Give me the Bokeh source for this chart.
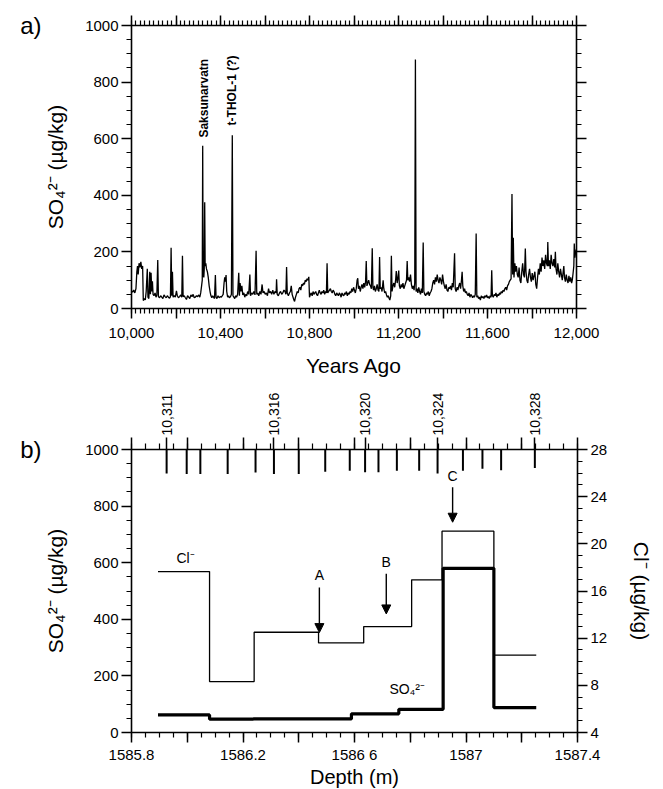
import math
from bokeh.plotting import figure
from bokeh.models import (LinearAxis, FixedTicker, Range1d, Label, Arrow, NormalHead,
                          CustomLabelingPolicy)
from bokeh.layouts import column
from bokeh.embed import file_html
from bokeh.resources import INLINE

FONT = "Liberation Sans"

# ---------------- panel a data: SO4 (ug/kg) vs years ago ----------------
years_a = [10000, 10005, 10010, 10015, 10020, 10024, 10027, 10030, 10034, 10038, 10042, 10046, 10050, 10053, 10058, 10062,
           10066, 10071, 10074, 10078, 10082, 10085, 10088, 10091, 10094, 10097, 10101, 10106, 10110, 10114, 10118, 10121,
           10126, 10131, 10136, 10141, 10146, 10151, 10156, 10161, 10166, 10171, 10175, 10178, 10181, 10184, 10187, 10192,
           10197, 10202, 10206, 10211, 10216, 10221, 10226, 10229, 10232, 10237, 10242, 10247, 10252, 10257, 10262, 10267,
           10272, 10277, 10282, 10287, 10292, 10297, 10302, 10307, 10311, 10315, 10318, 10320, 10322, 10325, 10327, 10329,
           10331, 10334, 10337, 10341, 10345, 10349, 10353, 10357, 10361, 10365, 10369, 10373, 10377, 10380, 10384, 10389,
           10394, 10399, 10404, 10408, 10412, 10416, 10419, 10422, 10425, 10428, 10432, 10436, 10440, 10445, 10449, 10453,
           10456, 10460, 10464, 10468, 10472, 10477, 10482, 10485, 10488, 10492, 10496, 10500, 10505, 10509, 10513, 10518,
           10522, 10527, 10532, 10535, 10540, 10545, 10550, 10555, 10560, 10563, 10567, 10572, 10577, 10582, 10587, 10591,
           10596, 10601, 10606, 10611, 10616, 10620, 10625, 10630, 10635, 10640, 10645, 10650, 10652, 10655, 10660, 10665,
           10670, 10675, 10680, 10685, 10690, 10694, 10697, 10700, 10705, 10710, 10714, 10718, 10722, 10726, 10730, 10733,
           10737, 10741, 10745, 10749, 10753, 10757, 10761, 10765, 10769, 10773, 10777, 10781, 10785, 10789, 10793, 10797,
           10800, 10804, 10808, 10812, 10816, 10820, 10824, 10828, 10832, 10836, 10840, 10844, 10848, 10852, 10856, 10860,
           10864, 10868, 10872, 10876, 10879, 10882, 10886, 10890, 10894, 10898, 10902, 10906, 10910, 10914, 10918, 10922,
           10926, 10930, 10934, 10938, 10942, 10946, 10950, 10954, 10958, 10962, 10966, 10970, 10974, 10978, 10982, 10986,
           10990, 10994, 10998, 11002, 11006, 11010, 11014, 11017, 11020, 11024, 11028, 11032, 11036, 11040, 11044, 11048,
           11052, 11055, 11058, 11062, 11066, 11070, 11074, 11078, 11082, 11085, 11088, 11092, 11096, 11100, 11104, 11108,
           11112, 11115, 11118, 11122, 11126, 11131, 11134, 11138, 11142, 11146, 11150, 11154, 11158, 11161, 11165, 11168,
           11171, 11175, 11179, 11183, 11187, 11190, 11194, 11198, 11201, 11204, 11208, 11212, 11216, 11220, 11224, 11228,
           11232, 11236, 11239, 11242, 11246, 11250, 11254, 11258, 11262, 11266, 11270, 11273, 11276, 11279, 11283, 11287,
           11291, 11295, 11299, 11303, 11307, 11311, 11314, 11318, 11322, 11326, 11330, 11334, 11338, 11342, 11346, 11350,
           11354, 11358, 11362, 11366, 11370, 11374, 11378, 11382, 11386, 11390, 11394, 11398, 11402, 11406, 11410, 11414,
           11418, 11422, 11426, 11430, 11434, 11438, 11442, 11446, 11452, 11455, 11459, 11463, 11467, 11471, 11475, 11479,
           11483, 11486, 11489, 11493, 11497, 11501, 11505, 11509, 11513, 11517, 11521, 11525, 11529, 11533, 11537, 11541,
           11545, 11549, 11552, 11556, 11560, 11564, 11568, 11572, 11576, 11580, 11584, 11588, 11592, 11596, 11600, 11604,
           11608, 11612, 11616, 11619, 11622, 11626, 11630, 11634, 11638, 11642, 11646, 11650, 11654, 11658, 11662, 11666,
           11670, 11674, 11678, 11682, 11686, 11690, 11694, 11698, 11702, 11706, 11710, 11713, 11716, 11719, 11723, 11726,
           11730, 11734, 11738, 11742, 11746, 11750, 11754, 11758, 11762, 11766, 11770, 11773, 11777, 11781, 11785, 11789,
           11793, 11797, 11801, 11805, 11809, 11813, 11817, 11821, 11825, 11829, 11833, 11837, 11841, 11845, 11849, 11853,
           11857, 11861, 11865, 11869, 11871, 11874, 11878, 11882, 11886, 11890, 11894, 11898, 11902, 11905, 11908, 11912,
           11916, 11920, 11924, 11928, 11932, 11936, 11940, 11943, 11946, 11950, 11954, 11958, 11962, 11966, 11970, 11974,
           11978, 11981, 11984, 11988, 11990, 11993, 11996, 12000]
so4_a = [62, 58, 65, 55, 70, 130, 150, 120, 160, 145, 165, 140, 150, 28, 35, 30,
         60, 140, 40, 35, 130, 50, 126, 60, 96, 50, 45, 55, 40, 48, 171, 42,
         38, 45, 40, 35, 48, 42, 38, 45, 40, 36, 42, 215, 45, 130, 40, 45,
         40, 62, 45, 38, 42, 48, 40, 186, 42, 45, 38, 32, 45, 40, 35, 48,
         42, 50, 38, 40, 45, 42, 48, 40, 55, 80, 100, 575, 120, 110, 140, 375,
         150, 160, 140, 130, 110, 80, 60, 45, 38, 45, 40, 35, 118, 40, 35, 45,
         38, 42, 40, 45, 50, 90, 110, 95, 118, 60, 40, 45, 38, 42, 50, 612,
         45, 40, 35, 45, 40, 50, 126, 45, 90, 60, 80, 48, 55, 40, 50, 45,
         60, 50, 120, 45, 55, 50, 60, 48, 204, 50, 55, 45, 60, 50, 85, 55,
         60, 50, 55, 45, 70, 55, 60, 50, 65, 50, 60, 55, 103, 50, 45, 55,
         60, 50, 55, 65, 60, 50, 147, 55, 45, 55, 60, 80, 50, 40, 30, 25,
         40, 50, 60, 55, 70, 75, 65, 85, 80, 90, 85, 100, 95, 105, 100, 112,
         40, 50, 55, 45, 60, 50, 55, 60, 50, 45, 55, 65, 55, 50, 60, 55,
         65, 50, 60, 55, 160, 55, 60, 65, 70, 60, 55, 65, 60, 50, 45, 55,
         50, 45, 55, 50, 40, 55, 48, 45, 55, 50, 60, 45, 55, 50, 60, 55,
         70, 60, 75, 65, 55, 70, 100, 107, 70, 80, 60, 75, 85, 70, 90, 75,
         95, 168, 80, 90, 100, 85, 80, 70, 213, 75, 65, 80, 60, 70, 85, 65,
         60, 182, 70, 75, 60, 100, 70, 55, 60, 48, 40, 45, 35, 30, 45, 186,
         60, 80, 90, 75, 100, 132, 90, 110, 134, 80, 70, 85, 75, 90, 70, 80,
         90, 100, 168, 100, 110, 95, 120, 85, 70, 80, 65, 90, 880, 60, 70, 55,
         75, 60, 50, 70, 55, 233, 60, 50, 45, 55, 50, 60, 45, 55, 60, 70,
         90, 100, 85, 110, 95, 120, 100, 90, 110, 100, 85, 120, 95, 80, 70, 85,
         65, 60, 75, 70, 80, 65, 90, 75, 195, 70, 60, 75, 65, 80, 90, 70,
         100, 130, 80, 60, 70, 55, 60, 50, 45, 55, 40, 50, 45, 38, 45, 40,
         50, 265, 40, 45, 35, 40, 30, 45, 38, 42, 35, 45, 40, 48, 38, 42,
         35, 45, 40, 135, 45, 40, 50, 45, 55, 40, 50, 45, 55, 50, 60, 55,
         65, 60, 70, 75, 65, 80, 85, 95, 100, 105, 405, 120, 250, 110, 160, 130,
         150, 120, 110, 145, 100, 90, 130, 160, 120, 110, 212, 130, 100, 90, 120, 140,
         110, 95, 125, 100, 115, 130, 85, 70, 110, 140, 120, 160, 130, 180, 150, 170,
         140, 190, 160, 150, 235, 150, 170, 140, 190, 160, 150, 175, 145, 200, 140, 120,
         160, 130, 110, 140, 120, 100, 130, 150, 110, 95, 120, 100, 90, 115, 95, 110,
         90, 100, 120, 150, 230, 180, 200, 210]

event_names = ["Saksunarvatn", "t-THOL-1 (?)"]
event_years = [10324, 10453]
event_label_base = [604, 647]

ticks_a_x = [10000, 10200, 10400, 10600, 10800, 11000, 11200, 11400, 11600, 11800, 12000]
labels_a_x = ["10,000", "", "10,400", "", "10,800", "", "11,200", "", "11,600", "", "12,000"]
minor_a_x = list(range(10000, 12001, 20))
ticks_so4 = [0, 200, 400, 600, 800, 1000]
minor_so4 = list(range(0, 1001, 50))

# ---------------- panel b data ----------------
so4_edges = [1585.895, 1586.08, 1586.237, 1586.589, 1586.759, 1586.918, 1587.1, 1587.252]
so4_vals = [62, 47, 48, 66, 82, 580, 88]
cl_edges = [1585.895, 1586.08, 1586.24, 1586.471, 1586.633, 1586.805, 1586.914, 1587.1, 1587.252]
cl_vals = [17.65, 8.32, 12.5, 11.6, 12.98, 16.95, 21.07, 10.56]

layer_years = [10311, 10312, 10313, 10314, 10315, 10316, 10317, 10318, 10319,
               10320, 10321, 10322, 10323, 10324, 10325, 10326, 10327, 10328]
layer_depths = [1585.926, 1585.998, 1586.047, 1586.145, 1586.245, 1586.311, 1586.400, 1586.495, 1586.583,
                1586.638, 1586.686, 1586.752, 1586.832, 1586.898, 1586.989, 1587.059, 1587.126, 1587.247]
layer_marks = [85, 87, 87, 87, 81, 87, 87, 79, 75, 80, 80, 75, 75, 85, 75, 68, 73, 65]
labeled_years = [10311, 10316, 10320, 10324, 10328]

ticks_depth = [1585.8, 1586.0, 1586.2, 1586.4, 1586.6, 1586.8, 1587.0, 1587.2, 1587.4]
labels_depth = ["1585.8", "", "1586.2", "", "1586 6", "", "1587", "", "1587.4"]
minor_depth = [round(1585.8 + 0.05 * i, 2) for i in range(33)]
ticks_cl = [4, 8, 12, 16, 20, 24, 28]
minor_cl = list(range(4, 29))

arrow_names = ["A", "B", "C"]
arrow_depth = [1586.474, 1586.714, 1586.952]
arrow_top = [512, 561, 867]
arrow_tip = [353, 419, 743]
arrow_text_y = [555, 604, 908]


def keep_policy(rule):
    # rule: JS boolean expression of i telling which tick labels are drawn
    return CustomLabelingPolicy(code=f"""
        try {{
            const arr = Array.from(indices);
            for (const i of arr) {{
                if (!({rule})) {{
                    if (typeof indices.unset === "function") indices.unset(i);
                    else indices.set(i, false);
                }}
            }}
        }} catch (e) {{}}
        return indices;
    """)


def style_axis(ax, font_size="15px", standoff=3, tick_out=10, minor_out=5):
    ax.axis_line_width = 1.6
    ax.axis_line_color = "black"
    ax.major_tick_line_width = 1.5
    ax.minor_tick_line_width = 1.2
    ax.major_tick_line_color = "black"
    ax.minor_tick_line_color = "black"
    ax.major_tick_out = tick_out
    ax.major_tick_in = 0
    ax.minor_tick_out = minor_out
    ax.minor_tick_in = 0
    ax.major_label_text_font = FONT
    ax.major_label_text_font_size = font_size
    ax.major_label_text_color = "black"
    ax.major_label_standoff = standoff
    ax.axis_label_text_font = FONT
    ax.axis_label_text_font_size = "21px"
    ax.axis_label_text_font_style = "normal"
    ax.axis_label_text_color = "black"


def panel_tag(text):
    ax = LinearAxis(ticker=FixedTicker(ticks=[1000], minor_ticks=[]))
    ax.major_label_overrides = {1000: text}
    ax.axis_line_color = None
    ax.major_tick_line_color = None
    ax.major_tick_out = 0
    ax.major_tick_in = 0
    ax.minor_tick_line_color = None
    ax.major_label_standoff = 0
    ax.major_label_text_font = FONT
    ax.major_label_text_font_size = "24px"
    ax.major_label_text_color = "black"
    return ax


# ================= panel a =================
pa = figure(output_backend="svg", toolbar_location=None,
            x_range=Range1d(10000, 12000), y_range=Range1d(0, 1000),
            frame_width=445, frame_height=283,
            min_border_left=131, min_border_right=87, min_border_top=25, min_border_bottom=74,
            x_axis_label="Years Ago", y_axis_label="SO₄²⁻ (µg/kg)")
pa.grid.visible = False
pa.outline_line_color = None
pa.background_fill_color = "white"
pa.border_fill_color = "white"

xa = pa.xaxis[0]
xa.ticker = FixedTicker(ticks=ticks_a_x, minor_ticks=minor_a_x)
xa.major_label_overrides = {t: l for t, l in zip(ticks_a_x, labels_a_x)}
xa.major_label_policy = keep_policy("i % 2 == 0")
style_axis(xa, standoff=9)
xa.axis_label_standoff = 13
ya = pa.yaxis[0]
ya.ticker = FixedTicker(ticks=ticks_so4, minor_ticks=minor_so4)
style_axis(ya)
ya.axis_label_standoff = 15

top_a = LinearAxis(ticker=FixedTicker(ticks=ticks_a_x, minor_ticks=minor_a_x))
style_axis(top_a, font_size="1px", standoff=0)
top_a.major_label_policy = keep_policy("false")
pa.add_layout(top_a, "above")
right_a = LinearAxis(ticker=FixedTicker(ticks=ticks_so4, minor_ticks=minor_so4))
style_axis(right_a, font_size="1px", standoff=0)
right_a.major_label_policy = keep_policy("false")
pa.add_layout(right_a, "right")
pa.add_layout(panel_tag("a)"), "left")

pa.line(years_a, so4_a, line_color="black", line_width=1.3)

for name, yr, yb in zip(event_names, event_years, event_label_base):
    pa.add_layout(Label(x=yr, y=yb, text=name, angle=math.pi / 2, text_align="left",
                        text_baseline="middle", text_font=FONT, text_font_size="12px",
                        text_font_style="bold", text_color="black"))

# ================= panel b =================
pb = figure(output_backend="svg", toolbar_location=None,
            x_range=Range1d(1585.8, 1587.4), y_range=Range1d(0, 1000),
            frame_width=446, frame_height=283,
            min_border_left=131, min_border_right=86, min_border_top=67, min_border_bottom=57,
            x_axis_label="Depth (m)", y_axis_label="SO₄²⁻ (µg/kg)")
pb.grid.visible = False
pb.outline_line_color = None
pb.background_fill_color = "white"
pb.border_fill_color = "white"
pb.extra_y_ranges = {"cl": Range1d(4, 28)}

xb = pb.xaxis[0]
xb.ticker = FixedTicker(ticks=ticks_depth, minor_ticks=minor_depth)
xb.major_label_overrides = {t: l for t, l in zip(ticks_depth, labels_depth)}
xb.major_label_policy = keep_policy("i % 2 == 0")
style_axis(xb, standoff=3)
xb.axis_label_standoff = 0
xb.axis_label_text_font_size = "20px"
yb = pb.yaxis[0]
yb.ticker = FixedTicker(ticks=ticks_so4, minor_ticks=minor_so4)
style_axis(yb)
yb.axis_label_standoff = 15
pb.add_layout(panel_tag("b)"), "left")

# top axis: depth ticks plus the year labels of the annual layers
year_ticks = [d for yr, d in zip(layer_years, layer_depths) if yr in labeled_years]
year_texts = [f"{yr // 1000},{yr % 1000:03d}" for yr in layer_years if yr in labeled_years]
top_b = LinearAxis(ticker=FixedTicker(ticks=year_ticks + ticks_depth, minor_ticks=minor_depth))
style_axis(top_b, font_size="14px", standoff=2, tick_out=12, minor_out=6)
overrides = {t: "" for t in ticks_depth}
overrides.update({t: s for t, s in zip(year_ticks, year_texts)})
top_b.major_label_overrides = overrides
top_b.major_label_orientation = math.pi / 2
top_b.major_label_policy = keep_policy(f"i < {len(year_ticks)}")
pb.add_layout(top_b, "above")

right_b = LinearAxis(y_range_name="cl", ticker=FixedTicker(ticks=ticks_cl, minor_ticks=minor_cl),
                     axis_label="Cl⁻ (µg/kg)")
style_axis(right_b)
right_b.axis_label_standoff = 20
pb.add_layout(right_b, "right")

# annual layer marks hanging from the top axis
pb.segment(x0=layer_depths, y0=[1000] * len(layer_depths), x1=layer_depths,
           y1=[1000 - m for m in layer_marks], line_color="black", line_width=2)

# step profiles
pb.step(x=cl_edges, y=cl_vals + [cl_vals[-1]], mode="after", y_range_name="cl",
        line_color="black", line_width=1.3)
pb.step(x=so4_edges, y=so4_vals + [so4_vals[-1]], mode="after",
        line_color="black", line_width=3.2)

for name, d, yt, ytip, ytext in zip(arrow_names, arrow_depth, arrow_top, arrow_tip, arrow_text_y):
    pb.add_layout(Arrow(end=NormalHead(size=9, fill_color="black", line_color="black"),
                        x_start=d, y_start=yt, x_end=d, y_end=ytip, line_width=1.4, line_color="black"))
    pb.add_layout(Label(x=d, y=ytext, text=name, text_align="center", text_baseline="middle",
                        text_font=FONT, text_font_size="14px", text_color="black"))

pb.add_layout(Label(x=1585.994, y=615, text="Cl⁻", text_align="center", text_baseline="middle",
                    text_font=FONT, text_font_size="14px", text_color="black"))
pb.add_layout(Label(x=1586.789, y=155, text="SO₄²⁻", text_align="center", text_baseline="middle",
                    text_font=FONT, text_font_size="14px", text_color="black"))

layout = column(pa, pb, spacing=0)
open("out.html", "w").write(file_html(layout, INLINE))
